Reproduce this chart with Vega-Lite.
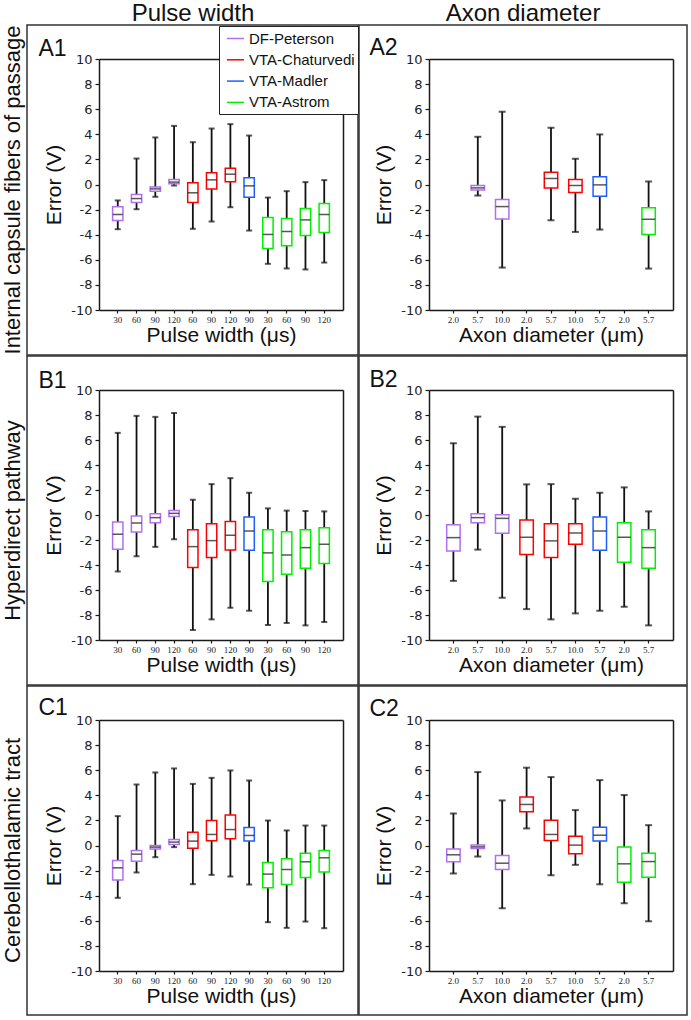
{
 "$schema": "https://vega.github.io/schema/vega-lite/v6.json",
 "background": "white",
 "padding": {"left": 1, "top": 2, "right": 0, "bottom": 0},
 "data": {"values": [
  {"p":"A1","k":"a|30","m":"DF-Peterson","lo":-3.56,"q1":-2.87,"md":-2.39,"q3":-1.78,"hi":-1.27},
  {"p":"A1","k":"b|60","m":"DF-Peterson","lo":-1.97,"q1":-1.43,"md":-1.12,"q3":-0.80,"hi":2.07},
  {"p":"A1","k":"c|90","m":"DF-Peterson","lo":-0.98,"q1":-0.53,"md":-0.35,"q3":-0.19,"hi":3.75},
  {"p":"A1","k":"d|120","m":"DF-Peterson","lo":-0.08,"q1":0.05,"md":0.19,"q3":0.40,"hi":4.67},
  {"p":"A1","k":"e|60","m":"VTA-Chaturvedi","lo":-3.53,"q1":-1.43,"md":-0.66,"q3":0.13,"hi":3.37},
  {"p":"A1","k":"f|90","m":"VTA-Chaturvedi","lo":-2.95,"q1":-0.35,"md":0.37,"q3":0.93,"hi":4.46},
  {"p":"A1","k":"g|120","m":"VTA-Chaturvedi","lo":-1.81,"q1":0.21,"md":0.82,"q3":1.30,"hi":4.81},
  {"p":"A1","k":"h|90","m":"VTA-Madler","lo":-3.67,"q1":-1.01,"md":-0.11,"q3":0.53,"hi":3.90},
  {"p":"A1","k":"i|30","m":"VTA-Astrom","lo":-6.32,"q1":-5.10,"md":-3.98,"q3":-2.63,"hi":-1.04},
  {"p":"A1","k":"j|60","m":"VTA-Astrom","lo":-6.69,"q1":-4.89,"md":-3.75,"q3":-2.71,"hi":-0.53},
  {"p":"A1","k":"k|90","m":"VTA-Astrom","lo":-6.77,"q1":-4.06,"md":-2.82,"q3":-1.91,"hi":0.19},
  {"p":"A1","k":"l|120","m":"VTA-Astrom","lo":-6.22,"q1":-3.82,"md":-2.39,"q3":-1.51,"hi":0.35},
  {"p":"A2","k":"b|5.7","m":"DF-Peterson","lo":-0.88,"q1":-0.43,"md":-0.27,"q3":-0.08,"hi":3.80},
  {"p":"A2","k":"c|10.0","m":"DF-Peterson","lo":-6.62,"q1":-2.74,"md":-1.76,"q3":-1.20,"hi":5.80},
  {"p":"A2","k":"e|5.7","m":"VTA-Chaturvedi","lo":-2.85,"q1":-0.27,"md":0.48,"q3":0.98,"hi":4.52},
  {"p":"A2","k":"f|10.0","m":"VTA-Chaturvedi","lo":-3.78,"q1":-0.64,"md":-0.08,"q3":0.40,"hi":2.05},
  {"p":"A2","k":"g|5.7","m":"VTA-Madler","lo":-3.59,"q1":-0.93,"md":-0.03,"q3":0.61,"hi":3.99},
  {"p":"A2","k":"i|5.7","m":"VTA-Astrom","lo":-6.70,"q1":-3.99,"md":-2.77,"q3":-1.86,"hi":0.24},
  {"p":"B1","k":"a|30","m":"DF-Peterson","lo":-4.52,"q1":-2.74,"md":-1.54,"q3":-0.56,"hi":6.57},
  {"p":"B1","k":"b|60","m":"DF-Peterson","lo":-3.30,"q1":-1.36,"md":-0.64,"q3":-0.08,"hi":7.93},
  {"p":"B1","k":"c|90","m":"DF-Peterson","lo":-2.55,"q1":-0.61,"md":-0.21,"q3":0.11,"hi":7.85},
  {"p":"B1","k":"d|120","m":"DF-Peterson","lo":-1.94,"q1":-0.11,"md":0.13,"q3":0.37,"hi":8.16},
  {"p":"B1","k":"e|60","m":"VTA-Chaturvedi","lo":-9.20,"q1":-4.20,"md":-2.53,"q3":-1.17,"hi":1.22},
  {"p":"B1","k":"f|90","m":"VTA-Chaturvedi","lo":-8.35,"q1":-3.40,"md":-2.05,"q3":-0.69,"hi":2.47},
  {"p":"B1","k":"g|120","m":"VTA-Chaturvedi","lo":-7.42,"q1":-2.79,"md":-1.62,"q3":-0.51,"hi":2.95},
  {"p":"B1","k":"h|90","m":"VTA-Madler","lo":-7.66,"q1":-2.82,"md":-1.28,"q3":-0.16,"hi":1.78},
  {"p":"B1","k":"i|30","m":"VTA-Astrom","lo":-8.80,"q1":-5.32,"md":-3.03,"q3":-1.17,"hi":0.53},
  {"p":"B1","k":"j|60","m":"VTA-Astrom","lo":-8.64,"q1":-4.73,"md":-3.19,"q3":-1.33,"hi":0.35},
  {"p":"B1","k":"k|90","m":"VTA-Astrom","lo":-8.83,"q1":-4.26,"md":-2.61,"q3":-1.17,"hi":0.32},
  {"p":"B1","k":"l|120","m":"VTA-Astrom","lo":-8.56,"q1":-3.88,"md":-2.34,"q3":-1.01,"hi":0.29},
  {"p":"B2","k":"a|2.0","m":"DF-Peterson","lo":-5.27,"q1":-2.87,"md":-1.81,"q3":-0.77,"hi":5.74},
  {"p":"B2","k":"b|5.7","m":"DF-Peterson","lo":-2.77,"q1":-0.61,"md":-0.21,"q3":0.11,"hi":7.87},
  {"p":"B2","k":"c|10.0","m":"DF-Peterson","lo":-6.62,"q1":-1.46,"md":-0.27,"q3":0.03,"hi":7.05},
  {"p":"B2","k":"d|2.0","m":"VTA-Chaturvedi","lo":-7.53,"q1":-3.16,"md":-1.78,"q3":-0.40,"hi":2.45},
  {"p":"B2","k":"e|5.7","m":"VTA-Chaturvedi","lo":-8.35,"q1":-3.40,"md":-2.07,"q3":-0.69,"hi":2.47},
  {"p":"B2","k":"f|10.0","m":"VTA-Chaturvedi","lo":-7.87,"q1":-2.34,"md":-1.44,"q3":-0.69,"hi":1.30},
  {"p":"B2","k":"g|5.7","m":"VTA-Madler","lo":-7.66,"q1":-2.82,"md":-1.28,"q3":-0.16,"hi":1.78},
  {"p":"B2","k":"h|2.0","m":"VTA-Astrom","lo":-7.34,"q1":-3.78,"md":-1.78,"q3":-0.61,"hi":2.21},
  {"p":"B2","k":"i|5.7","m":"VTA-Astrom","lo":-8.83,"q1":-4.26,"md":-2.61,"q3":-1.17,"hi":0.29},
  {"p":"C1","k":"a|30","m":"DF-Peterson","lo":-4.17,"q1":-2.74,"md":-1.78,"q3":-1.20,"hi":2.34},
  {"p":"C1","k":"b|60","m":"DF-Peterson","lo":-2.15,"q1":-1.25,"md":-0.69,"q3":-0.40,"hi":4.86},
  {"p":"C1","k":"c|90","m":"DF-Peterson","lo":-0.93,"q1":-0.27,"md":-0.13,"q3":0.00,"hi":5.82},
  {"p":"C1","k":"d|120","m":"DF-Peterson","lo":-0.13,"q1":0.08,"md":0.27,"q3":0.48,"hi":6.14},
  {"p":"C1","k":"e|60","m":"VTA-Chaturvedi","lo":-3.08,"q1":-0.21,"md":0.35,"q3":1.06,"hi":4.91},
  {"p":"C1","k":"f|90","m":"VTA-Chaturvedi","lo":-2.34,"q1":0.37,"md":0.88,"q3":1.99,"hi":5.39},
  {"p":"C1","k":"g|120","m":"VTA-Chaturvedi","lo":-2.47,"q1":0.53,"md":1.27,"q3":2.44,"hi":5.98},
  {"p":"C1","k":"h|90","m":"VTA-Madler","lo":-3.11,"q1":0.35,"md":0.80,"q3":1.43,"hi":5.18},
  {"p":"C1","k":"i|30","m":"VTA-Astrom","lo":-6.11,"q1":-3.37,"md":-2.28,"q3":-1.35,"hi":1.99},
  {"p":"C1","k":"j|60","m":"VTA-Astrom","lo":-6.56,"q1":-3.11,"md":-1.91,"q3":-1.06,"hi":1.20},
  {"p":"C1","k":"k|90","m":"VTA-Astrom","lo":-6.06,"q1":-2.55,"md":-1.30,"q3":-0.61,"hi":1.59},
  {"p":"C1","k":"l|120","m":"VTA-Astrom","lo":-6.59,"q1":-2.12,"md":-0.98,"q3":-0.40,"hi":1.59},
  {"p":"C2","k":"a|2.0","m":"DF-Peterson","lo":-2.23,"q1":-1.30,"md":-0.74,"q3":-0.27,"hi":2.55},
  {"p":"C2","k":"b|5.7","m":"DF-Peterson","lo":-0.88,"q1":-0.24,"md":-0.11,"q3":0.03,"hi":5.85},
  {"p":"C2","k":"c|10.0","m":"DF-Peterson","lo":-5.00,"q1":-1.91,"md":-1.41,"q3":-0.80,"hi":3.59},
  {"p":"C2","k":"d|2.0","m":"VTA-Chaturvedi","lo":1.36,"q1":2.69,"md":3.27,"q3":3.86,"hi":6.20},
  {"p":"C2","k":"e|5.7","m":"VTA-Chaturvedi","lo":-2.37,"q1":0.40,"md":0.88,"q3":2.02,"hi":5.45},
  {"p":"C2","k":"f|10.0","m":"VTA-Chaturvedi","lo":-1.54,"q1":-0.66,"md":0.03,"q3":0.74,"hi":2.82},
  {"p":"C2","k":"g|5.7","m":"VTA-Madler","lo":-3.09,"q1":0.35,"md":0.82,"q3":1.46,"hi":5.21},
  {"p":"C2","k":"h|2.0","m":"VTA-Astrom","lo":-4.60,"q1":-2.93,"md":-1.46,"q3":-0.11,"hi":4.02},
  {"p":"C2","k":"i|5.7","m":"VTA-Astrom","lo":-6.04,"q1":-2.53,"md":-1.28,"q3":-0.61,"hi":1.62}
 ]},
 "spacing": -3,
 "hconcat": [
  {
   "title": {"text": "Pulse width", "fontSize": 24, "anchor": "middle", "frame": "bounds", "dx": 13, "offset": -2},
   "spacing": -3,
   "vconcat": [
    {
     "width": 331, "height": 330,
     "title": {"text": "Internal capsule fibers of passage", "orient": "left", "fontSize": 22, "offset": 2},
     "transform": [{"filter": "datum.p == 'A1'"}],
     "layer": [
      {"mark": {"type": "rule", "color": "#111", "strokeWidth": 1.8},
       "encoding": {
        "x": {"field": "k", "type": "nominal", "scale": {"domain": ["a|30","b|60","c|90","d|120","e|60","f|90","g|120","h|90","i|30","j|60","k|90","l|120"], "range": [72, 316], "paddingInner": 0, "paddingOuter": 0.5}, "axis": {"orient": "bottom", "offset": -45, "labelExpr": "substring(datum.value, 2)", "title": "Pulse width (μs)"}},
        "y": {"field": "lo", "type": "quantitative", "scale": {"domain": [-10, 10], "range": [285, 34], "nice": false, "zero": false}, "axis": {"orient": "left", "offset": -72, "values": [-10,-8,-6,-4,-2,0,2,4,6,8,10], "labelExpr": "datum.value + ''", "title": "Error (V)"}},
        "y2": {"field": "hi"}}},
      {"mark": {"type": "tick", "color": "#111", "thickness": 2, "size": 6},
       "encoding": {"x": {"field": "k", "type": "nominal", "axis": null}, "y": {"field": "lo", "type": "quantitative", "axis": null}}},
      {"mark": {"type": "tick", "color": "#111", "thickness": 2, "size": 6},
       "encoding": {"x": {"field": "k", "type": "nominal", "axis": null}, "y": {"field": "hi", "type": "quantitative", "axis": null}}},
      {"mark": {"type": "bar", "fill": "white", "strokeWidth": 1.5, "width": {"band": 0.55}},
       "encoding": {"x": {"field": "k", "type": "nominal", "axis": null}, "y": {"field": "q1", "type": "quantitative", "axis": null}, "y2": {"field": "q3"},
        "stroke": {"field": "m", "type": "nominal", "scale": {"domain": ["DF-Peterson","VTA-Chaturvedi","VTA-Madler","VTA-Astrom"], "range": ["#b070f0","#ff0000","#1f5fff","#00f000"]},
         "legend": {"orient": "none", "legendX": 192, "legendY": 1, "title": null, "symbolType": "stroke", "symbolSize": 289, "symbolStrokeWidth": 1.5, "labelFont": "Liberation Sans", "labelFontSize": 15, "labelColor": "#111", "strokeColor": "#222", "fillColor": "white", "padding": 3, "rowPadding": 3.3, "labelOffset": 4, "symbolOffset": 4}}}},
      {"mark": {"type": "tick", "color": "#111", "thickness": 1.5, "size": 10},
       "encoding": {"x": {"field": "k", "type": "nominal", "axis": {"orient": "top", "offset": -34, "title": "A1", "titleX": 11, "titleY": -4}},
        "y": {"field": "md", "type": "quantitative", "axis": {"orient": "right", "offset": -15, "title": null}}}}
     ],
     "resolve": {"axis": {"x": "independent", "y": "independent"}}
    },
    {
     "width": 331, "height": 329,
     "title": {"text": "Hyperdirect pathway", "orient": "left", "fontSize": 22, "offset": 2},
     "transform": [{"filter": "datum.p == 'B1'"}],
     "layer": [
      {"mark": {"type": "rule", "color": "#111", "strokeWidth": 1.8},
       "encoding": {
        "x": {"field": "k", "type": "nominal", "scale": {"domain": ["a|30","b|60","c|90","d|120","e|60","f|90","g|120","h|90","i|30","j|60","k|90","l|120"], "range": [72, 316], "paddingInner": 0, "paddingOuter": 0.5}, "axis": {"orient": "bottom", "offset": -45, "labelExpr": "substring(datum.value, 2)", "title": "Pulse width (μs)"}},
        "y": {"field": "lo", "type": "quantitative", "scale": {"domain": [-10, 10], "range": [284, 34], "nice": false, "zero": false}, "axis": {"orient": "left", "offset": -72, "values": [-10,-8,-6,-4,-2,0,2,4,6,8,10], "labelExpr": "datum.value + ''", "title": "Error (V)"}},
        "y2": {"field": "hi"}}},
      {"mark": {"type": "tick", "color": "#111", "thickness": 2, "size": 6},
       "encoding": {"x": {"field": "k", "type": "nominal", "axis": null}, "y": {"field": "lo", "type": "quantitative", "axis": null}}},
      {"mark": {"type": "tick", "color": "#111", "thickness": 2, "size": 6},
       "encoding": {"x": {"field": "k", "type": "nominal", "axis": null}, "y": {"field": "hi", "type": "quantitative", "axis": null}}},
      {"mark": {"type": "bar", "fill": "white", "strokeWidth": 1.5, "width": {"band": 0.55}},
       "encoding": {"x": {"field": "k", "type": "nominal", "axis": null}, "y": {"field": "q1", "type": "quantitative", "axis": null}, "y2": {"field": "q3"},
        "stroke": {"field": "m", "type": "nominal", "scale": {"domain": ["DF-Peterson","VTA-Chaturvedi","VTA-Madler","VTA-Astrom"], "range": ["#b070f0","#ff0000","#1f5fff","#00f000"]},
         "legend": {"orient": "none", "legendX": 192, "legendY": 1, "title": null, "symbolType": "stroke", "symbolSize": 289, "symbolStrokeWidth": 1.5, "labelFont": "Liberation Sans", "labelFontSize": 15, "labelColor": "#111", "strokeColor": "#222", "fillColor": "white", "padding": 3, "rowPadding": 3.3, "labelOffset": 4, "symbolOffset": 4}}}},
      {"mark": {"type": "tick", "color": "#111", "thickness": 1.5, "size": 10},
       "encoding": {"x": {"field": "k", "type": "nominal", "axis": {"orient": "top", "offset": -34, "title": "B1", "titleX": 11, "titleY": -3}},
        "y": {"field": "md", "type": "quantitative", "axis": {"orient": "right", "offset": -15, "title": null}}}}
     ],
     "resolve": {"axis": {"x": "independent", "y": "independent"}}
    },
    {
     "width": 331, "height": 329,
     "title": {"text": "Cerebellothalamic tract", "orient": "left", "fontSize": 22, "offset": 2},
     "transform": [{"filter": "datum.p == 'C1'"}],
     "layer": [
      {"mark": {"type": "rule", "color": "#111", "strokeWidth": 1.8},
       "encoding": {
        "x": {"field": "k", "type": "nominal", "scale": {"domain": ["a|30","b|60","c|90","d|120","e|60","f|90","g|120","h|90","i|30","j|60","k|90","l|120"], "range": [72, 316], "paddingInner": 0, "paddingOuter": 0.5}, "axis": {"orient": "bottom", "offset": -44, "labelExpr": "substring(datum.value, 2)", "title": "Pulse width (μs)"}},
        "y": {"field": "lo", "type": "quantitative", "scale": {"domain": [-10, 10], "range": [285, 34], "nice": false, "zero": false}, "axis": {"orient": "left", "offset": -72, "values": [-10,-8,-6,-4,-2,0,2,4,6,8,10], "labelExpr": "datum.value + ''", "title": "Error (V)"}},
        "y2": {"field": "hi"}}},
      {"mark": {"type": "tick", "color": "#111", "thickness": 2, "size": 6},
       "encoding": {"x": {"field": "k", "type": "nominal", "axis": null}, "y": {"field": "lo", "type": "quantitative", "axis": null}}},
      {"mark": {"type": "tick", "color": "#111", "thickness": 2, "size": 6},
       "encoding": {"x": {"field": "k", "type": "nominal", "axis": null}, "y": {"field": "hi", "type": "quantitative", "axis": null}}},
      {"mark": {"type": "bar", "fill": "white", "strokeWidth": 1.5, "width": {"band": 0.55}},
       "encoding": {"x": {"field": "k", "type": "nominal", "axis": null}, "y": {"field": "q1", "type": "quantitative", "axis": null}, "y2": {"field": "q3"},
        "stroke": {"field": "m", "type": "nominal", "scale": {"domain": ["DF-Peterson","VTA-Chaturvedi","VTA-Madler","VTA-Astrom"], "range": ["#b070f0","#ff0000","#1f5fff","#00f000"]},
         "legend": {"orient": "none", "legendX": 192, "legendY": 1, "title": null, "symbolType": "stroke", "symbolSize": 289, "symbolStrokeWidth": 1.5, "labelFont": "Liberation Sans", "labelFontSize": 15, "labelColor": "#111", "strokeColor": "#222", "fillColor": "white", "padding": 3, "rowPadding": 3.3, "labelOffset": 4, "symbolOffset": 4}}}},
      {"mark": {"type": "tick", "color": "#111", "thickness": 1.5, "size": 10},
       "encoding": {"x": {"field": "k", "type": "nominal", "axis": {"orient": "top", "offset": -34, "title": "C1", "titleX": 11, "titleY": -6}},
        "y": {"field": "md", "type": "quantitative", "axis": {"orient": "right", "offset": -15, "title": null}}}}
     ],
     "resolve": {"axis": {"x": "independent", "y": "independent"}}
    }
   ]
  },
  {
   "title": {"text": "Axon diameter", "fontSize": 24, "anchor": "middle", "frame": "bounds", "offset": -2},
   "spacing": -3,
   "vconcat": [
    {
     "width": 328, "height": 330,
     "transform": [{"filter": "datum.p == 'A2'"}],
     "layer": [
      {"mark": {"type": "rule", "color": "#111", "strokeWidth": 1.8},
       "encoding": {
        "x": {"field": "k", "type": "nominal", "scale": {"domain": ["a|2.0","b|5.7","c|10.0","d|2.0","e|5.7","f|10.0","g|5.7","h|2.0","i|5.7"], "range": [70, 314], "paddingInner": 0, "paddingOuter": 0.5}, "axis": {"orient": "bottom", "offset": -45, "labelExpr": "substring(datum.value, 2)", "title": "Axon diameter (μm)"}},
        "y": {"field": "lo", "type": "quantitative", "scale": {"domain": [-10, 10], "range": [285, 34], "nice": false, "zero": false}, "axis": {"orient": "left", "offset": -70, "values": [-10,-8,-6,-4,-2,0,2,4,6,8,10], "labelExpr": "datum.value + ''", "title": "Error (V)"}},
        "y2": {"field": "hi"}}},
      {"mark": {"type": "tick", "color": "#111", "thickness": 2, "size": 7},
       "encoding": {"x": {"field": "k", "type": "nominal", "axis": null}, "y": {"field": "lo", "type": "quantitative", "axis": null}}},
      {"mark": {"type": "tick", "color": "#111", "thickness": 2, "size": 7},
       "encoding": {"x": {"field": "k", "type": "nominal", "axis": null}, "y": {"field": "hi", "type": "quantitative", "axis": null}}},
      {"mark": {"type": "bar", "fill": "white", "strokeWidth": 1.5, "width": {"band": 0.55}},
       "encoding": {"x": {"field": "k", "type": "nominal", "axis": null}, "y": {"field": "q1", "type": "quantitative", "axis": null}, "y2": {"field": "q3"},
        "stroke": {"field": "m", "type": "nominal", "scale": {"domain": ["DF-Peterson","VTA-Chaturvedi","VTA-Madler","VTA-Astrom"], "range": ["#b070f0","#ff0000","#1f5fff","#00f000"]},
         "legend": {"orient": "none", "legendX": 192, "legendY": 1, "title": null, "symbolType": "stroke", "symbolSize": 289, "symbolStrokeWidth": 1.5, "labelFont": "Liberation Sans", "labelFontSize": 15, "labelColor": "#111", "strokeColor": "#222", "fillColor": "white", "padding": 3, "rowPadding": 3.3, "labelOffset": 4, "symbolOffset": 4}}}},
      {"mark": {"type": "tick", "color": "#111", "thickness": 1.5, "size": 13},
       "encoding": {"x": {"field": "k", "type": "nominal", "axis": {"orient": "top", "offset": -34, "title": "A2", "titleX": 10, "titleY": -5}},
        "y": {"field": "md", "type": "quantitative", "axis": {"orient": "right", "offset": -14, "title": null}}}}
     ],
     "resolve": {"axis": {"x": "independent", "y": "independent"}}
    },
    {
     "width": 328, "height": 329,
     "transform": [{"filter": "datum.p == 'B2'"}],
     "layer": [
      {"mark": {"type": "rule", "color": "#111", "strokeWidth": 1.8},
       "encoding": {
        "x": {"field": "k", "type": "nominal", "scale": {"domain": ["a|2.0","b|5.7","c|10.0","d|2.0","e|5.7","f|10.0","g|5.7","h|2.0","i|5.7"], "range": [70, 314], "paddingInner": 0, "paddingOuter": 0.5}, "axis": {"orient": "bottom", "offset": -45, "labelExpr": "substring(datum.value, 2)", "title": "Axon diameter (μm)"}},
        "y": {"field": "lo", "type": "quantitative", "scale": {"domain": [-10, 10], "range": [284, 34], "nice": false, "zero": false}, "axis": {"orient": "left", "offset": -70, "values": [-10,-8,-6,-4,-2,0,2,4,6,8,10], "labelExpr": "datum.value + ''", "title": "Error (V)"}},
        "y2": {"field": "hi"}}},
      {"mark": {"type": "tick", "color": "#111", "thickness": 2, "size": 7},
       "encoding": {"x": {"field": "k", "type": "nominal", "axis": null}, "y": {"field": "lo", "type": "quantitative", "axis": null}}},
      {"mark": {"type": "tick", "color": "#111", "thickness": 2, "size": 7},
       "encoding": {"x": {"field": "k", "type": "nominal", "axis": null}, "y": {"field": "hi", "type": "quantitative", "axis": null}}},
      {"mark": {"type": "bar", "fill": "white", "strokeWidth": 1.5, "width": {"band": 0.55}},
       "encoding": {"x": {"field": "k", "type": "nominal", "axis": null}, "y": {"field": "q1", "type": "quantitative", "axis": null}, "y2": {"field": "q3"},
        "stroke": {"field": "m", "type": "nominal", "scale": {"domain": ["DF-Peterson","VTA-Chaturvedi","VTA-Madler","VTA-Astrom"], "range": ["#b070f0","#ff0000","#1f5fff","#00f000"]},
         "legend": {"orient": "none", "legendX": 192, "legendY": 1, "title": null, "symbolType": "stroke", "symbolSize": 289, "symbolStrokeWidth": 1.5, "labelFont": "Liberation Sans", "labelFontSize": 15, "labelColor": "#111", "strokeColor": "#222", "fillColor": "white", "padding": 3, "rowPadding": 3.3, "labelOffset": 4, "symbolOffset": 4}}}},
      {"mark": {"type": "tick", "color": "#111", "thickness": 1.5, "size": 13},
       "encoding": {"x": {"field": "k", "type": "nominal", "axis": {"orient": "top", "offset": -34, "title": "B2", "titleX": 10, "titleY": -4}},
        "y": {"field": "md", "type": "quantitative", "axis": {"orient": "right", "offset": -14, "title": null}}}}
     ],
     "resolve": {"axis": {"x": "independent", "y": "independent"}}
    },
    {
     "width": 328, "height": 329,
     "transform": [{"filter": "datum.p == 'C2'"}],
     "layer": [
      {"mark": {"type": "rule", "color": "#111", "strokeWidth": 1.8},
       "encoding": {
        "x": {"field": "k", "type": "nominal", "scale": {"domain": ["a|2.0","b|5.7","c|10.0","d|2.0","e|5.7","f|10.0","g|5.7","h|2.0","i|5.7"], "range": [70, 314], "paddingInner": 0, "paddingOuter": 0.5}, "axis": {"orient": "bottom", "offset": -44, "labelExpr": "substring(datum.value, 2)", "title": "Axon diameter (μm)"}},
        "y": {"field": "lo", "type": "quantitative", "scale": {"domain": [-10, 10], "range": [285, 34], "nice": false, "zero": false}, "axis": {"orient": "left", "offset": -70, "values": [-10,-8,-6,-4,-2,0,2,4,6,8,10], "labelExpr": "datum.value + ''", "title": "Error (V)"}},
        "y2": {"field": "hi"}}},
      {"mark": {"type": "tick", "color": "#111", "thickness": 2, "size": 7},
       "encoding": {"x": {"field": "k", "type": "nominal", "axis": null}, "y": {"field": "lo", "type": "quantitative", "axis": null}}},
      {"mark": {"type": "tick", "color": "#111", "thickness": 2, "size": 7},
       "encoding": {"x": {"field": "k", "type": "nominal", "axis": null}, "y": {"field": "hi", "type": "quantitative", "axis": null}}},
      {"mark": {"type": "bar", "fill": "white", "strokeWidth": 1.5, "width": {"band": 0.55}},
       "encoding": {"x": {"field": "k", "type": "nominal", "axis": null}, "y": {"field": "q1", "type": "quantitative", "axis": null}, "y2": {"field": "q3"},
        "stroke": {"field": "m", "type": "nominal", "scale": {"domain": ["DF-Peterson","VTA-Chaturvedi","VTA-Madler","VTA-Astrom"], "range": ["#b070f0","#ff0000","#1f5fff","#00f000"]},
         "legend": {"orient": "none", "legendX": 192, "legendY": 1, "title": null, "symbolType": "stroke", "symbolSize": 289, "symbolStrokeWidth": 1.5, "labelFont": "Liberation Sans", "labelFontSize": 15, "labelColor": "#111", "strokeColor": "#222", "fillColor": "white", "padding": 3, "rowPadding": 3.3, "labelOffset": 4, "symbolOffset": 4}}}},
      {"mark": {"type": "tick", "color": "#111", "thickness": 1.5, "size": 13},
       "encoding": {"x": {"field": "k", "type": "nominal", "axis": {"orient": "top", "offset": -34, "title": "C2", "titleX": 10, "titleY": -5}},
        "y": {"field": "md", "type": "quantitative", "axis": {"orient": "right", "offset": -14, "title": null}}}}
     ],
     "resolve": {"axis": {"x": "independent", "y": "independent"}}
    }
   ]
  }
 ],
 "config": {
  "view": {"stroke": "#333", "strokeWidth": 1.5},
  "axis": {"grid": false, "domainColor": "#1a1a1a", "domainWidth": 1.5, "tickColor": "#1a1a1a", "tickWidth": 1.2, "labelColor": "#222", "titleColor": "#111", "titleFont": "Liberation Sans", "titleFontWeight": "normal", "titleFontSize": 21},
  "axisLeft": {"labelFont": "DejaVu Sans", "labelFontSize": 13, "tickSize": 4, "labelPadding": 3, "titlePadding": 6},
  "axisBottom": {"labelFont": "Liberation Serif", "labelFontSize": 9, "labelAngle": 0, "tickSize": 3, "labelPadding": 2, "titlePadding": 0},
  "axisTop": {"labels": false, "ticks": false, "titleFontSize": 23, "titleAlign": "left", "titleBaseline": "alphabetic", "titleAngle": 0},
  "axisRight": {"labels": false, "ticks": false},
  "title": {"font": "Liberation Sans", "fontWeight": "normal", "color": "#111"}
 }
}
